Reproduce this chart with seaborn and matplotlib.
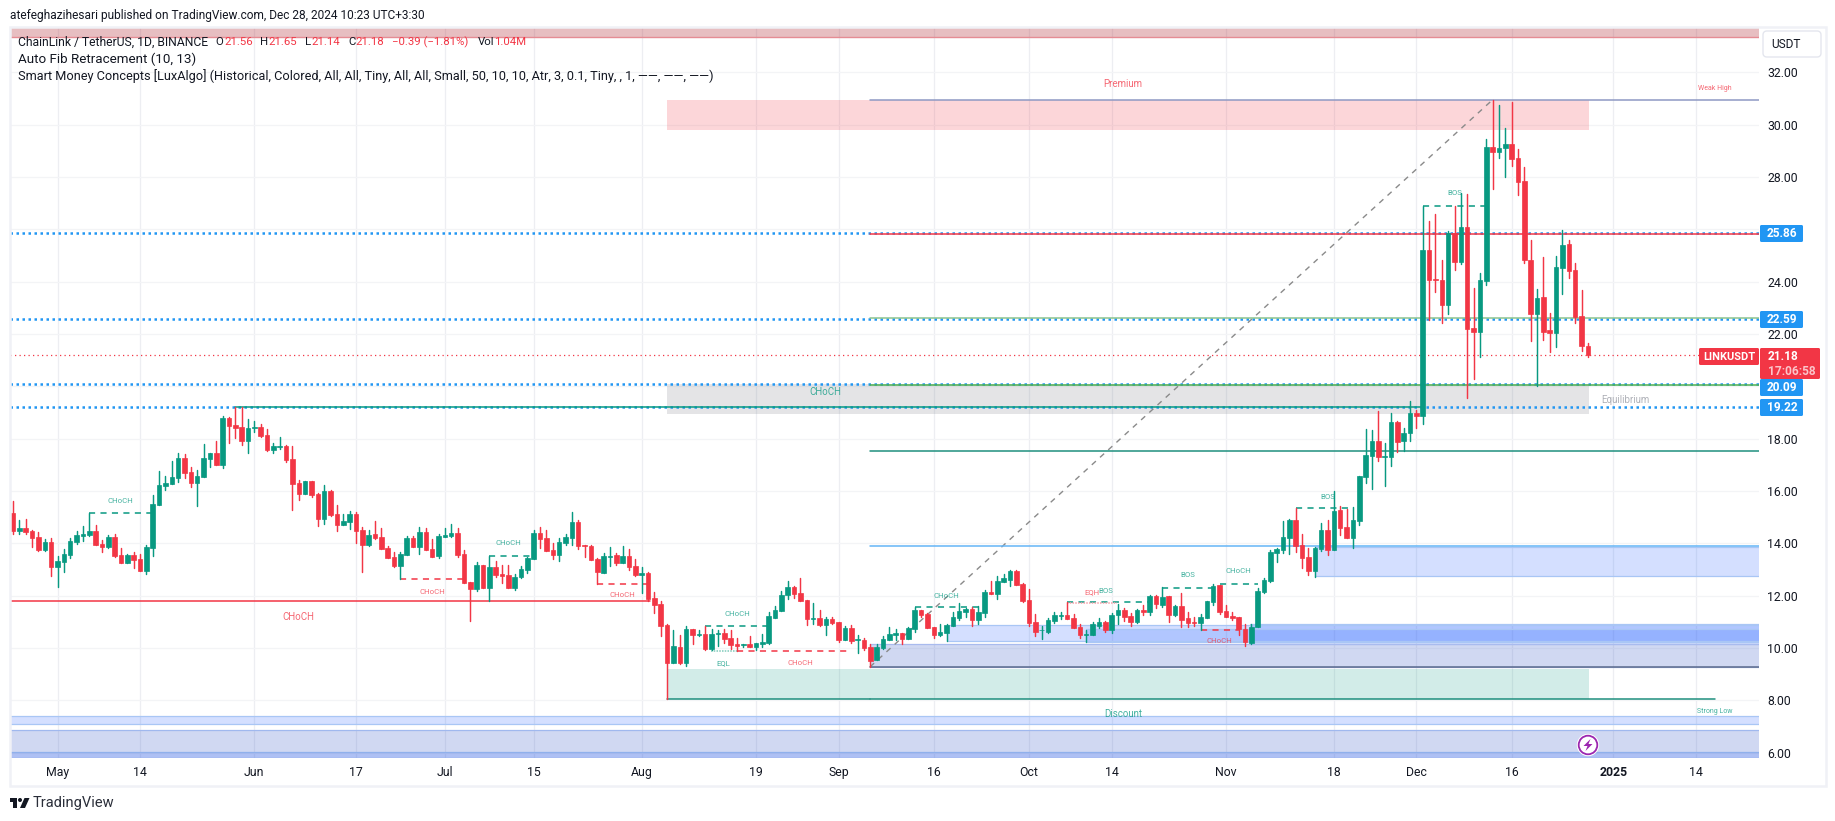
"""
plot.py
LINKUSDT daily candles with Smart Money Concepts zones, TradingView style.
"""

import numpy as np
import pandas as pd
import matplotlib
matplotlib.use("Agg")
import matplotlib.pyplot as plt
from matplotlib.patches import Rectangle, Polygon, Circle, FancyBboxPatch
from matplotlib.transforms import Affine2D
import seaborn as sns

W, H = 1835, 821

# ── candles, Apr 24 2024 to Dec 28 2024, one row of ten per line ──
opens = [
    15.16,14.47,14.59,14.47,14.24,13.75,14.05,13.11,13.29,13.56,
    14.05,14.28,14.32,14.47,13.98,13.86,14.24,13.56,13.25,13.56,
    13.40,12.95,13.82,15.47,16.19,16.27,16.50,17.26,16.73,16.31,
    16.54,17.23,17.45,17.00,18.79,18.52,18.45,17.91,18.41,18.45,
    18.14,17.57,17.68,17.72,17.23,16.31,15.89,16.38,15.89,14.93,
    16.00,15.12,14.70,14.82,15.12,14.51,13.94,14.36,14.24,13.82,
    13.48,13.14,13.55,14.20,13.86,14.43,13.78,13.52,14.24,14.28,
    14.39,13.59,12.52,12.25,13.17,12.29,13.10,12.83,12.79,12.29,
    12.71,12.98,13.40,14.39,14.20,13.74,13.55,14.01,14.20,14.81,
    13.92,13.90,13.40,12.86,13.48,13.55,13.25,13.52,13.13,12.79,
    12.87,11.91,11.68,10.88,9.43,10.04,9.43,10.73,10.50,10.53,
    9.96,10.53,10.57,10.38,10.15,10.10,10.15,10.04,10.15,10.19,
    11.15,11.41,12.03,12.33,12.10,11.84,11.11,11.15,10.88,11.11,
    11.00,10.31,10.77,10.31,10.31,10.04,9.55,10.00,10.31,10.50,
    10.58,10.35,10.73,11.46,11.30,10.81,10.50,10.58,10.84,11.15,
    11.38,11.49,11.07,11.34,12.14,12.07,12.53,12.60,12.95,12.45,
    11.84,11.00,10.68,10.62,11.04,11.21,11.27,11.15,10.81,10.51,
    10.50,10.84,11.00,10.69,11.27,11.46,11.23,11.00,11.46,11.38,
    11.99,11.65,11.99,11.27,11.61,11.15,11.00,10.96,11.15,11.76,
    12.41,11.42,11.23,11.19,10.73,10.20,10.81,12.14,12.56,13.63,
    13.75,14.20,14.89,13.94,13.48,12.94,13.78,14.51,13.75,15.27,
    14.62,14.20,14.85,16.54,17.34,17.91,17.31,17.30,18.64,17.91,
    18.22,18.98,18.87,25.21,24.11,24.07,23.11,25.86,24.75,26.09,
    22.23,22.08,24.03,29.15,28.96,29.11,29.26,28.73,27.85,24.83,
    22.77,23.42,22.16,22.04,24.53,25.44,24.45,22.69,21.56,
]
highs = [
    15.62,14.89,14.93,14.51,14.44,14.17,14.21,13.52,13.79,14.21,
    14.47,14.66,15.15,14.70,14.13,14.32,14.36,13.82,13.60,13.67,
    13.60,13.94,15.85,16.77,16.58,17.15,17.45,17.42,16.92,16.80,
    17.80,17.45,17.91,18.87,18.83,19.21,19.21,18.75,18.68,18.56,
    18.37,17.84,18.07,17.76,17.72,16.42,16.38,16.38,15.93,16.23,
    16.04,15.47,15.12,15.24,15.20,14.63,14.51,14.86,14.59,13.90,
    13.67,13.67,14.28,14.28,14.62,14.59,14.17,14.36,14.59,14.74,
    14.59,13.74,12.52,13.29,13.17,13.52,13.32,13.17,13.17,12.83,
    13.13,13.48,14.51,14.62,14.51,14.01,14.20,14.36,15.20,14.89,
    13.94,13.94,13.44,13.63,13.86,13.63,13.90,13.78,13.40,13.09,
    12.90,12.14,11.80,10.92,10.69,10.50,10.84,10.73,10.69,10.84,
    10.73,10.69,10.73,10.69,10.38,10.15,10.46,10.19,10.53,11.38,
    11.61,12.18,12.56,12.37,12.68,11.84,11.72,11.46,11.19,11.19,
    11.00,10.85,10.88,10.50,10.39,10.16,10.16,10.46,10.81,10.73,
    10.58,10.81,11.57,11.46,11.34,10.81,10.92,10.92,11.38,11.72,
    11.53,11.57,11.61,12.22,12.56,12.75,12.83,13.00,13.00,12.49,
    12.26,11.30,10.84,11.15,11.38,11.38,11.76,11.30,10.92,10.69,
    10.99,11.15,11.04,11.34,11.69,11.53,11.34,11.49,11.65,12.03,
    12.03,12.32,11.99,11.65,12.10,11.38,11.19,11.30,11.80,12.45,
    12.41,11.65,11.38,11.19,10.92,10.92,12.30,12.68,13.75,13.83,
    14.85,14.93,15.35,14.36,13.82,13.86,14.78,14.89,16.00,15.43,
    15.31,15.39,16.57,18.37,18.33,19.06,17.83,18.98,18.68,18.41,
    19.44,19.10,26.88,26.32,26.59,24.83,25.94,26.89,27.39,27.35,
    23.76,24.33,29.46,30.95,30.75,29.88,30.87,29.07,28.39,25.60,
    23.72,24.95,22.81,24.98,25.98,25.60,24.72,23.68,21.65,
]
lows = [
    14.36,14.36,14.36,13.86,13.71,13.71,12.75,12.33,12.91,13.45,
    13.98,14.09,14.28,13.94,13.67,13.82,13.48,13.25,13.25,13.06,
    12.95,12.83,13.52,15.47,16.04,16.27,16.35,16.50,16.16,15.43,
    16.54,16.92,17.00,16.88,17.84,18.03,17.76,17.45,18.26,18.07,
    17.53,17.45,17.61,17.11,15.28,15.66,15.89,15.77,14.66,14.74,
    15.05,14.47,14.70,14.55,14.00,12.91,13.90,14.17,13.79,13.44,
    13.10,12.63,13.55,13.86,13.59,13.74,13.48,13.44,14.24,14.24,
    13.48,12.48,11.03,12.18,12.29,11.78,12.71,12.48,12.29,12.22,
    12.67,12.86,13.40,13.82,13.71,13.40,13.32,13.94,13.94,13.78,
    13.48,13.36,12.43,12.86,13.13,13.17,13.25,12.98,12.75,12.10,
    11.80,11.34,10.46,8.04,9.43,9.39,9.31,10.15,10.46,9.92,
    9.92,10.08,10.19,9.96,9.87,10.04,10.04,9.92,10.04,10.15,
    11.15,11.41,11.87,11.91,11.80,10.88,10.92,10.84,10.50,10.92,
    10.23,10.31,10.19,9.81,9.93,9.28,9.55,9.97,10.31,10.31,
    10.16,10.35,10.62,11.19,10.77,10.39,10.46,10.27,10.84,11.07,
    11.19,10.84,10.92,11.19,12.07,11.88,12.53,12.37,12.41,11.76,
    10.84,10.46,10.35,10.58,10.96,11.11,11.11,10.77,10.39,10.23,
    10.50,10.77,10.62,10.58,10.92,11.04,10.84,10.96,11.27,11.27,
    11.53,11.57,11.00,11.23,10.81,10.81,10.84,10.69,11.15,11.65,
    11.30,11.19,11.07,10.50,10.08,10.16,10.81,12.10,12.53,13.29,
    13.63,13.59,13.67,13.06,12.79,12.71,13.71,13.55,13.75,14.32,
    14.20,13.82,14.70,16.31,16.08,17.15,16.19,16.96,17.49,17.52,
    17.91,18.41,18.56,22.54,23.61,22.42,22.77,24.45,24.68,19.56,
    20.28,21.14,23.88,27.54,28.73,28.00,28.42,27.32,24.72,21.74,
    20.02,21.77,21.32,21.51,23.53,24.14,22.42,21.35,21.14,
]
closes = [
    14.49,14.59,14.44,14.22,13.75,14.05,13.11,13.33,13.59,14.09,
    14.32,14.36,14.47,13.94,13.86,14.24,13.52,13.25,13.56,13.37,
    12.95,13.86,15.51,16.23,16.31,16.54,17.26,16.69,16.31,16.58,
    17.26,17.45,17.00,18.79,18.49,18.41,17.91,18.41,18.45,18.10,
    17.57,17.72,17.72,17.19,16.27,15.89,16.38,15.85,14.93,16.00,
    15.09,14.70,14.86,15.12,14.47,13.94,14.32,14.21,13.79,13.44,
    13.14,13.59,14.20,13.86,14.43,13.74,13.48,14.28,14.32,14.39,
    13.55,12.48,12.25,13.17,12.29,13.10,12.79,12.75,12.29,12.71,
    13.02,13.44,14.39,14.17,13.71,13.55,14.05,14.24,14.81,13.90,
    13.90,13.36,12.90,13.52,13.50,13.25,13.52,13.09,12.79,12.87,
    11.87,11.64,10.84,9.43,10.08,9.43,10.73,10.50,10.53,9.96,
    10.53,10.57,10.34,10.11,10.08,10.14,10.04,10.19,10.23,11.22,
    11.45,12.03,12.33,12.06,11.80,11.11,11.15,10.88,11.11,10.96,
    10.31,10.77,10.27,10.35,10.00,9.51,10.04,10.35,10.54,10.58,
    10.35,10.77,11.46,11.27,10.77,10.50,10.62,10.88,11.19,11.42,
    11.49,11.07,11.38,12.14,12.07,12.56,12.68,12.95,12.41,11.80,
    10.96,10.62,10.69,11.07,11.27,11.25,11.11,10.77,10.50,10.54,
    10.92,11.00,10.69,11.27,11.46,11.19,11.00,11.46,11.38,11.99,
    11.69,11.95,11.27,11.61,11.07,10.96,10.96,11.19,11.80,12.37,
    11.38,11.19,11.15,10.73,10.23,10.81,12.18,12.60,13.67,13.79,
    14.24,14.89,13.90,13.44,12.94,13.82,14.51,13.75,15.24,14.59,
    14.20,14.89,16.57,17.38,17.91,17.30,17.34,18.64,17.87,18.22,
    18.98,18.87,25.21,24.07,24.07,23.11,25.86,24.75,26.09,22.19,
    22.08,24.07,29.15,28.96,29.11,29.26,28.69,27.81,24.83,22.77,
    23.38,22.08,22.04,24.56,25.40,24.41,22.65,21.54,21.18,
]
FIRST_DAY = -7   # days since May 1 2024

tick_days   = [0, 13, 31, 47, 61, 75, 92, 110, 123, 138, 153, 166, 184, 201, 214, 229, 245, 258]
tick_labels = ["May", "14", "Jun", "17", "Jul", "15", "Aug", "19", "Sep", "16",
               "Oct", "14", "Nov", "18", "Dec", "16", "2025", "14"]
price_ticks  = [32, 30, 28, 26, 24, 22, 20, 18, 16, 14, 12, 10, 8, 6]
price_labels = ["32.00", "30.00", "28.00", "", "24.00", "22.00", "", "18.00",
                "16.00", "14.00", "12.00", "10.00", "8.00", "6.00"]

user_levels = [25.86, 22.59, 20.09, 19.22]
last_price  = 21.18

# fib lines: price, colour
fib_prices  = [30.94, 25.81, 22.63, 20.07, 17.52, 13.89, 9.27]
fib_colours = ["#8E99C3", "#F23645", "#8BC48F", "#4CAF50", "#1F8F7E", "#64B5F6", "#5C6B8C"]

# dashed structure: start day, end day, price
teal_breaks = [(5, 15, 15.15), (68, 74.5, 13.50), (102, 112, 10.83), (135, 146, 11.55),
               (159, 172, 11.75), (174, 182, 12.31), (183, 189, 12.44), (195, 204, 15.34),
               (215, 225, 26.88)]
red_breaks  = [(54, 64, 12.63), (85, 93, 12.43), (107, 125, 9.87), (180, 186, 10.68)]

GREEN = "#089981"
RED   = "#F23645"
INK   = "#131722"
BLUE  = "#2196F3"

sns.set_theme(style="white", rc={"axes.edgecolor": "white", "axes.linewidth": 0})
plt.rcParams["font.family"] = ["Roboto", "DejaVu Sans"]

fig = plt.figure(figsize=(W / 100, H / 100), dpi=100, facecolor="white")
ax = fig.add_axes([10 / W, (H - 758) / H, 1749 / W, 730 / H])
px = Affine2D().scale(1, -1).translate(0, H)  # screen pixels, y down


def x_day(x):
    return (x - 57.5) / 6.35


def y_price(y):
    return 32 - (y - 72.3) / 26.17


def label(x, y, s, colour=INK, size=8.6, ha="center", weight="normal", alpha=1.0):
    fig.text(x, y, s, transform=px, color=colour, fontsize=size, ha=ha, va="center",
             fontweight=weight, alpha=alpha, zorder=20)


def zone(d0, d1, p0, p1, colour, alpha, edge=None):
    ax.add_patch(Rectangle((d0, p0), d1 - d0, p1 - p0, facecolor=colour, alpha=alpha,
                           edgecolor="none", zorder=2))
    if edge:
        ax.plot([d0, d1], [p0, p0], color=edge, lw=0.9, zorder=2.2)
        ax.plot([d0, d1], [p1, p1], color=edge, lw=0.9, zorder=2.2)


x_left, x_right = x_day(10), x_day(1759)
y_top, y_bottom = y_price(28), y_price(758)
fib_day = x_day(870)
box_end = x_day(1589)

ax.set_xlim(x_left, x_right)
ax.set_ylim(y_bottom, y_top)

# ── grid ──
ax.set_axisbelow(True)
ax.yaxis.tick_right()
ax.set_xticks(tick_days, tick_labels, fontsize=8.8, color=INK)
ax.set_yticks(price_ticks, price_labels, fontsize=8.8, color=INK)
ax.tick_params(axis="both", length=0)
ax.tick_params(axis="x", pad=6)
ax.tick_params(axis="y", pad=6)
ax.get_xticklabels()[16].set_fontweight("bold")
ax.grid(True, axis="x", color="#EDEEF2", lw=0.9)
ax.grid(True, axis="y", color="#F3F4F6", lw=0.9)
sns.despine(ax=ax, left=True, right=True, top=True, bottom=True)

# ── zones ──
zone(x_left, x_right, y_price(36.7), y_top, "#B22833", 0.30)
ax.plot([x_left, x_right], [y_price(36.7)] * 2, color="#E58C94", lw=1.0, zorder=2.2)
zone(x_day(667), box_end, 29.79, 30.94, RED, 0.20)
zone(x_day(667), box_end, 18.95, 20.08, "#787B86", 0.20)
zone(x_day(667), box_end, 8.04, 9.21, GREEN, 0.18)
zone(x_day(1315), x_right, 12.74, 13.87, "#2962FF", 0.20, "#A9C6F5")
zone(x_day(947), x_right, 10.28, 10.87, "#2962FF", 0.20, "#A9C6F5")
zone(x_day(1086), x_right, 10.23, 10.73, "#2962FF", 0.20, "#A9C6F5")
zone(x_day(1250), x_right, 10.15, 10.92, "#2962FF", 0.20, "#A9C6F5")
zone(fib_day, x_right, 9.28, 10.16, "#2B50C8", 0.22, "#A9BBEE")
zone(x_left, x_right, 7.11, 7.41, "#2962FF", 0.20, "#A9C6F5")
zone(x_left, x_right, y_bottom, 6.87, "#2B50C8", 0.22, "#A0B8EE")
zone(x_left, x_right, y_bottom, 6.03, "#2962FF", 0.20, "#8FB0EC")

# ── levels ──
for price in user_levels:
    ax.plot([x_left, x_right], [price, price], color=BLUE, lw=1.8, zorder=3,
            linestyle=(0, (1, 1.4)), dash_capstyle="butt")
for price, colour in zip(fib_prices, fib_colours):
    ax.plot([fib_day, x_right], [price, price], color=colour, lw=1.1, zorder=3.2)
ax.plot([x_day(667), fib_day], [8.04, 8.04], color="#1F8F7E", lw=1.1, zorder=3)
ax.plot([fib_day, x_day(1715)], [8.04, 8.04], color="#1F8F7E", lw=1.1, zorder=3)
ax.plot([x_day(235), x_day(1423)], [19.21, 19.21], color=GREEN, lw=1.1, zorder=3.2)
ax.plot([x_left, x_day(650)], [11.79, 11.79], color=RED, lw=1.1, zorder=3)
ax.plot([x_left, x_day(1699)], [last_price, last_price], color=RED, lw=0.9, zorder=3,
        linestyle=(0, (1, 2.6)), dash_capstyle="butt")
ax.plot([fib_day, 226], [9.28, 30.95], color="#8A8A8A", lw=1.0, zorder=3,
        linestyle=(0, (4, 4)))

for d0, d1, price in teal_breaks:
    ax.plot([d0, d1], [price, price], color=GREEN, lw=1.1, linestyle=(0, (4, 3.5)), zorder=3)
for d0, d1, price in red_breaks:
    ax.plot([d0, d1], [price, price], color=RED, lw=1.1, linestyle=(0, (4, 3.5)), zorder=3)
ax.plot([x_day(711), x_day(737)], [9.90, 9.90], color="#7FCABA", lw=1.1, linestyle=(0, (1, 0.8)), zorder=3)
ax.plot([159, x_day(1117)], [11.72, 11.72], color="#F7A1A9", lw=1.1, linestyle=(0, (1, 0.8)), zorder=3)

# ── candles ──
candles = pd.DataFrame({"open": opens, "high": highs, "low": lows, "close": closes})
candles["day"] = np.arange(len(candles)) + FIRST_DAY
candles["side"] = np.where(candles["close"] >= candles["open"], "up", "down")
wicks = candles.melt(id_vars=["day", "side"], value_vars=["high", "low"], value_name="price")
sns.lineplot(data=wicks, x="day", y="price", units="day", estimator=None, hue="side",
             palette={"up": GREEN, "down": RED}, lw=1.05, legend=False, sort=False,
             ax=ax, zorder=4)
for side, colour in (("up", GREEN), ("down", RED)):
    part = candles[candles["side"] == side]
    ax.bar(part["day"], (part["close"] - part["open"]).abs(), bottom=part[["open", "close"]].min(axis=1),
           width=0.72, color=colour, edgecolor=colour, linewidth=0.5, zorder=5)
ax.set_xlim(x_left, x_right)
ax.set_ylim(y_bottom, y_top)
ax.set_xlabel("")
ax.set_ylabel("")

# ── small chart labels ──
small_labels = [
    (120, 500.7, "CHoCH", GREEN, 5.6), (508, 543, "CHoCH", GREEN, 5.6), (737, 614, "CHoCH", GREEN, 5.6),
    (946, 596, "CHoCH", GREEN, 5.6), (1238, 571, "CHoCH", GREEN, 5.6), (1187.7, 574.7, "BOS", GREEN, 5.6),
    (1105.7, 590.7, "BOS", GREEN, 5.6), (1328, 497, "BOS", GREEN, 5.6), (1455, 193, "BOS", GREEN, 5.6),
    (723, 662.7, "EQL", GREEN, 5.6), (432, 591.7, "CHoCH", RED, 5.6), (622, 595, "CHoCH", RED, 5.6),
    (800, 662.7, "CHoCH", RED, 5.6), (1219, 641, "CHoCH", RED, 5.6), (1092, 591.7, "EQH", RED, 5.6),
    (298, 616.5, "CHoCH", RED, 7.0), (825, 392, "CHoCH", GREEN, 7.0), (1123, 84, "Premium", RED, 7.0),
    (1123, 713.5, "Discount", GREEN, 7.0), (1715, 88, "Weak High", RED, 5.0), (1715, 711, "Strong Low", GREEN, 5.0),
    (1625, 400, "Equilibrium", "#9598A1", 7.0),
]
for x, y, s, colour, size in small_labels:
    label(x, y, s, colour, size, alpha=0.75)

# ── frame and price scale ──
fig.add_artist(Rectangle((9.5, 27), 1816.5, 759, transform=px, fill=False, edgecolor="#F0F1F6", lw=1.8))
fig.add_artist(FancyBboxPatch((1765, 33), 54, 22, boxstyle="round,pad=2,rounding_size=4", transform=px,
                              facecolor="white", edgecolor="#E4E6EE", lw=1.0))
label(1786, 44.5, "USDT")

for price, top in zip(user_levels, [225, 311, 379, 399]):
    fig.add_artist(FancyBboxPatch((1760, top), 43, 17, boxstyle="round,pad=0,rounding_size=1.5",
                                  transform=px, facecolor=BLUE, edgecolor="none", zorder=9))
    label(1782, top + 8.5, f"{price:.2f}", "white", 8.6, weight="bold")
fig.add_artist(FancyBboxPatch((1760, 348), 60, 31, boxstyle="round,pad=0,rounding_size=1.5",
                              transform=px, facecolor=RED, edgecolor="none", zorder=9))
fig.add_artist(FancyBboxPatch((1699, 348), 60, 17, boxstyle="round,pad=0,rounding_size=1.5",
                              transform=px, facecolor=RED, edgecolor="none", zorder=9))
label(1729, 356.5, "LINKUSDT", "white", 8.0, weight="bold")
label(1768, 356.5, f"{last_price:.2f}", "white", 8.6, ha="left", weight="bold")
label(1768, 371, "17:06:58", "#FBC4C9", 8.6, ha="left", weight="bold")

# ── purple bolt mark ──
fig.add_artist(Circle((1588, 745), 10.5, transform=px, facecolor="white", edgecolor="white", zorder=9))
fig.add_artist(Circle((1588, 745), 9.3, transform=px, facecolor="white", edgecolor="#9C27B0", lw=1.3, zorder=10))
bolt = [(2.5, -6), (-4.5, 1), (-0.5, 1), (-2.5, 6), (4.5, -1), (0.5, -1)]
fig.add_artist(Polygon([(1588 + a, 745 + b) for a, b in bolt], transform=px, facecolor="#9C27B0",
                       edgecolor="none", zorder=11))

# ── header and legend text ──
label(9.7, 15, "atefeghazihesari published on TradingView.com, Dec 28, 2024 10:23 UTC+3:30", ha="left", size=8.6)
label(18, 42, "ChainLink / TetherUS, 1D, BINANCE", ha="left", size=8.75)
ohlc_bits = [(215, "O", INK), (224, "21.56", RED), (260, "H", INK), (268, "21.65", RED),
             (305, "L", INK), (311, "21.14", RED), (348, "C", INK), (355, "21.18", RED),
             (392, "\u22120.39 (\u22121.81%)", RED), (478, "Vol", INK), (494, "1.04M", RED)]
for x, s, colour in ohlc_bits:
    label(x, 42, s, colour, ha="left", size=8.2)
label(18, 59, "Auto Fib Retracement (10, 13)", ha="left", size=9.6)
label(18, 76, "Smart Money Concepts [LuxAlgo] (Historical, Colored, All, All, Tiny, All, All, Small, "
              "50, 10, 10, Atr, 3, 0.1, Tiny, , 1, \u2014\u2014, \u2014\u2014, \u2014\u2014)", ha="left", size=9.2)

# ── footer logo ──
fig.add_artist(Polygon([(10, 798), (17, 798), (17, 808), (13, 808), (13, 802), (10, 802)], transform=px,
                       facecolor=INK, edgecolor="none"))
fig.add_artist(Circle((20, 800), 2, transform=px, facecolor=INK, edgecolor="none"))
fig.add_artist(Polygon([(24.5, 798), (29.5, 798), (25, 808), (20, 808)], transform=px,
                       facecolor=INK, edgecolor="none"))
label(33, 803, "TradingView", "#2A2E39", 10.5, ha="left")

fig.savefig("out.png", dpi=100, facecolor="white")
plt.close(fig)
